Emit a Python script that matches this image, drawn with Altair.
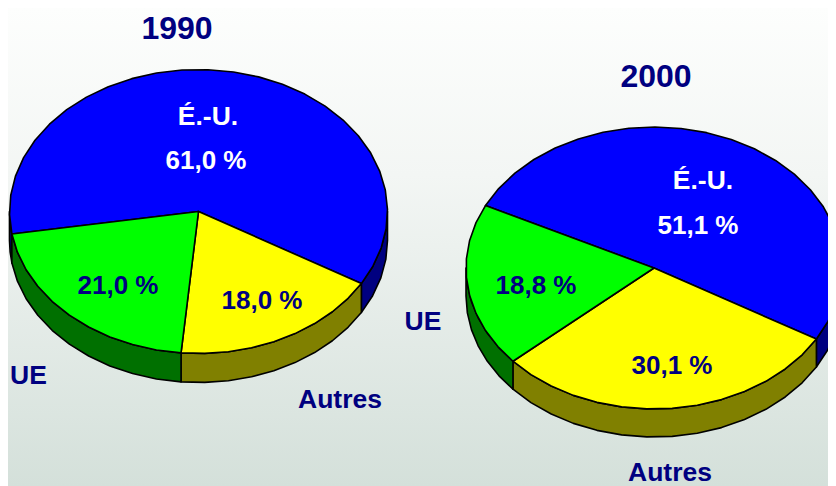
import math
import altair as alt

YEARS = ["1990", "2000"]
NAMES = ["É.-U.", "Autres", "UE"]
SHARES_1990 = [61.0, 18.0, 21.0]
SHARES_2000 = [51.1, 30.1, 18.8]
TOP_COLORS = ["#0000ff", "#ffff00", "#00ff00"]
SIDE_COLORS = ["#000080", "#808000", "#007000"]
VALUE_TEXT_COLORS = ["#ffffff", "#000080", "#000080"]

W, H = 820, 478
OFF = 8  # page margin


def pt(c, a, dz=0.0):
    r = math.radians(a)
    return [c["cx"] + c["rx"] * math.cos(r) - OFF, c["cy"] + c["ry"] * math.sin(r) + dz - OFF]


def arc_angles(a0, a1, step=8.0):
    n = max(1, int(math.ceil((a1 - a0) / step)))
    return [a0 + (a1 - a0) * i / n for i in range(n + 1)]


def feature(ring, color):
    ring = ring + [ring[0]]
    return {
        "type": "Feature",
        "geometry": {"type": "Polygon", "coordinates": [ring]},
        "properties": {"c": color},
    }


def pie_features(shares, c):
    sides, tops = [], []
    a = c["start"]
    for s, top, side in zip(shares, TOP_COLORS, SIDE_COLORS):
        b = a + s * 3.6
        # visible wall: the parts of the slice on the front half of the ellipse
        for k in (0, 360):
            lo, hi = max(a, k), min(b, k + 180)
            if hi > lo:
                angs = arc_angles(lo, hi)
                ring = [pt(c, x) for x in angs] + [pt(c, x, c["depth"]) for x in reversed(angs)]
                sides.append(feature(ring, side))
        angs = arc_angles(a, b)
        ring = [[c["cx"] - OFF, c["cy"] - OFF]] + [pt(c, x) for x in angs]
        tops.append(feature(ring, top))
        a = b
    return sides + tops


PIE_1990 = dict(cx=198.5, cy=211.5, rx=189, ry=142, depth=29, start=170.9)
PIE_2000 = dict(cx=654, cy=268, rx=188, ry=141, depth=28, start=206.3)

features = pie_features(SHARES_1990, PIE_1990) + pie_features(SHARES_2000, PIE_2000)

bg = (
    alt.Chart(alt.Data(values=[{"a": 1}]))
    .mark_rect(
        color=alt.LinearGradient(
            gradient="linear",
            x1=0, x2=0, y1=0, y2=1,
            stops=[
                alt.GradientStop(offset=0, color="#fdfefd"),
                alt.GradientStop(offset=0.35, color="#f3f6f4"),
                alt.GradientStop(offset=1, color="#d4e0da"),
            ],
        )
    )
    .encode(x=alt.value(0), x2=alt.value(W), y=alt.value(0), y2=alt.value(H))
)

pies = (
    alt.Chart(alt.Data(values=features))
    .mark_geoshape(stroke="black", strokeWidth=1.6, strokeJoin="round")
    .encode(color=alt.Color("properties.c:N", scale=None, legend=None))
    .project(type="identity", scale=1, translate=[0, 0])
)


def label(text, x, y, color, size):
    return (
        alt.Chart(alt.Data(values=[{"t": text}]))
        .mark_text(
            font="Liberation Sans", fontWeight="bold", fontSize=size, color=color,
            align="center", baseline="middle",
        )
        .encode(x=alt.value(x - OFF), y=alt.value(y - OFF), text="t:N")
    )


def pct(v):
    return f"{v:.1f}".replace(".", ",") + " %"


T = 32
L = 26.5
V = 26
texts = [
    label(YEARS[0], 177, 28.5, "#000080", T),
    label(YEARS[1], 656, 76.5, "#000080", T),
    label(NAMES[0], 208, 117, "#ffffff", L),
    label(pct(SHARES_1990[0]), 206, 161, VALUE_TEXT_COLORS[0], V),
    label(pct(SHARES_1990[2]), 118, 285.5, VALUE_TEXT_COLORS[2], V),
    label(pct(SHARES_1990[1]), 262, 300.5, VALUE_TEXT_COLORS[1], V),
    label(NAMES[2], 28.5, 375.5, "#000080", L),
    label(NAMES[1], 340, 400, "#000080", L),
    label(NAMES[0], 703, 181, "#ffffff", L),
    label(pct(SHARES_2000[0]), 698, 226, VALUE_TEXT_COLORS[0], V),
    label(pct(SHARES_2000[2]), 536, 286, VALUE_TEXT_COLORS[2], V),
    label(pct(SHARES_2000[1]), 672, 366, VALUE_TEXT_COLORS[1], V),
    label(NAMES[2], 423, 321.5, "#000080", L),
    label(NAMES[1], 670, 472.5, "#000080", L),
]

chart = (
    alt.layer(bg, pies, *texts)
    .properties(width=W, height=H, padding=0, autosize=alt.AutoSizeParams(type="none"))
    .configure_view(stroke=None, clip=False)
)

chart.save("out.html", embed_options={"renderer": "svg", "actions": False})
